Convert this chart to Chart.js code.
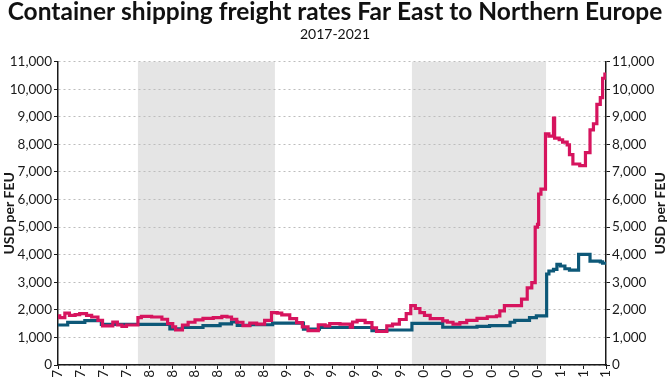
<!DOCTYPE html>
<html><head><meta charset="utf-8">
<script src="https://cdn.jsdelivr.net/npm/chart.js@4"></script>
<style>html,body{margin:0;padding:0;background:#fff}canvas{display:block}</style>
</head><body>
<canvas id="c" width="670" height="380"></canvas>
<script>
// Months since June 2017 (0) to June 2021 (48); each value holds from its month onward
const spotMonths = [0,0.15,0.6,1.0,1.5,1.9,2.5,2.95,3.5,3.9,4.8,5.2,5.6,6.0,7.0,7.3,8.2,9.1,9.6,10.05,10.3,10.9,11.4,12.0,12.7,13.6,14.35,14.8,15.2,15.66,16.2,16.8,17.4,18.1,18.7,19.2,19.6,20.3,20.9,21.4,21.9,22.8,23.4,23.8,24.7,25.6,25.8,26.2,26.9,27.5,27.9,28.8,29.3,29.9,30.5,30.9,31.3,31.7,32.1,32.6,33.7,34.1,34.6,35.2,35.8,36.7,37.6,38.4,38.7,39.1,40.6,41.1,41.5,41.8,42.0,42.1,42.3,42.7,43.0,43.4,43.5,43.9,44.2,44.6,44.8,45.1,45.7,46.2,46.6,46.9,47.2,47.5,47.7,47.9,48.0];
const spotRates = [1780,1720,1880,1800,1830,1860,1800,1740,1620,1420,1560,1450,1400,1450,1720,1760,1740,1660,1500,1380,1270,1450,1550,1640,1690,1720,1760,1740,1660,1550,1430,1520,1480,1620,1900,1880,1820,1680,1540,1380,1250,1460,1420,1500,1480,1370,1560,1620,1540,1350,1220,1420,1480,1650,1860,2150,2050,1900,1800,1680,1600,1550,1480,1540,1620,1690,1750,1780,1960,2150,2390,2800,2990,5000,5100,6200,6380,8380,8300,8950,8230,8170,8080,7980,7630,7290,7230,7700,8530,8750,9450,9700,10400,10550,10550];
const contractMonths = [0,0.85,2.35,3.8,9.8,10.9,12.7,14.2,15.2,15.7,16.8,18.8,21.5,22.9,27.5,28.8,31.0,33.7,36.7,37.8,39.6,40.0,41.3,41.9,42.8,43.0,43.4,43.7,44.0,44.4,44.8,45.6,46.6,47.5,47.7,48.0];
const contractRates = [1450,1545,1610,1470,1310,1360,1430,1490,1560,1440,1460,1520,1300,1360,1250,1270,1510,1370,1400,1430,1550,1620,1720,1780,3300,3410,3470,3650,3590,3490,3440,4010,3770,3740,3690,3690];
const tickLabels = ['7','7','7','7','8','8','8','8','8','8','9','9','9','9','9','9','0','0','0','0','0','0','1','1','1'];
const shadedRanges = [[7,19],[31,42.75]];
const title = 'Container shipping freight rates Far East to Northern Europe';
const subtitle = '2017-2021';
const axisTitle = 'USD per FEU';

const FONT = 'Lato';
const INK = '#1a1a1a';

const shadePlugin = {
  id: 'shade',
  beforeDraw(chart) {
    const {ctx, chartArea, scales} = chart;
    ctx.save();
    ctx.fillStyle = '#e5e5e5';
    shadedRanges.forEach(([a, b]) => {
      const x1 = scales.x.getPixelForValue(a), x2 = scales.x.getPixelForValue(b);
      ctx.fillRect(x1, chartArea.top, x2 - x1, chartArea.bottom - chartArea.top);
    });
    ctx.restore();
  }
};
const rightTitlePlugin = {
  id: 'rightTitle',
  afterDraw(chart) {
    const {ctx, chartArea} = chart;
    ctx.save();
    ctx.translate(chart.width - 9.5, (chartArea.top + chartArea.bottom) / 2);
    ctx.rotate(-Math.PI / 2);
    ctx.font = 'bold 14px ' + FONT;
    ctx.fillStyle = INK;
    ctx.textAlign = 'center';
    ctx.textBaseline = 'middle';
    ctx.fillText(axisTitle, 0, 0);
    ctx.restore();
  }
};

const yTickFont = {family: FONT, size: 13.5};
new Chart(document.getElementById('c'), {
  type: 'line',
  data: {
    datasets: [
      {data: spotMonths.map((m, i) => ({x: m, y: spotRates[i]})), borderColor: '#d6145e', borderWidth: 3.2, pointRadius: 0, stepped: true, yAxisID: 'y'},
      {data: contractMonths.map((m, i) => ({x: m, y: contractRates[i]})), borderColor: '#0d5878', borderWidth: 3.2, pointRadius: 0, stepped: true, yAxisID: 'y'}
    ]
  },
  options: {
    responsive: false,
    animation: false,
    layout: {padding: 0},
    plugins: {
      legend: {display: false},
      tooltip: {enabled: false},
      title: {display: true, text: title, color: '#111', font: {family: FONT, size: 24.5, weight: 'bold', lineHeight: 1.0}, padding: {top: 0, bottom: 0}},
      subtitle: {display: true, text: subtitle, color: '#111', font: {family: FONT, size: 14, lineHeight: 1.0}, padding: {top: 3.2, bottom: 20}}
    },
    scales: {
      x: {
        type: 'linear', min: 0, max: 48,
        afterFit: s => { s.height = 15; },
        border: {display: true, color: INK, width: 1.5},
        grid: {drawOnChartArea: false, color: INK, tickColor: INK, tickLength: 4, lineWidth: 1},
        ticks: {stepSize: 2, autoSkip: false, minRotation: 90, maxRotation: 90, padding: 1, color: INK, font: yTickFont,
          callback: v => tickLabels[Math.round(v / 2)]}
      },
      y: {
        position: 'left', min: 0, max: 11000,
        afterFit: s => { s.width = 58; },
        border: {display: true, color: INK, width: 1.5, dash: [2, 3]},
        grid: {color: '#bdbdbd', lineWidth: 1, tickColor: INK, tickLength: 4},
        ticks: {stepSize: 1000, padding: 2, color: INK, font: yTickFont, callback: v => v.toLocaleString('en-US')},
        title: {display: true, text: axisTitle, color: INK, font: {family: FONT, size: 14, weight: 'bold'}, padding: {top: 1, bottom: 2}}
      },
      y2: {
        position: 'right', min: 0, max: 11000,
        afterFit: s => { s.width = 64; },
        border: {display: true, color: INK, width: 1.5},
        grid: {drawOnChartArea: false, color: INK, tickColor: INK, tickLength: 4},
        ticks: {stepSize: 1000, padding: 2, color: INK, font: yTickFont, callback: v => v.toLocaleString('en-US')}
      }
    }
  },
  plugins: [shadePlugin, rightTitlePlugin]
});
</script>
</body></html>
